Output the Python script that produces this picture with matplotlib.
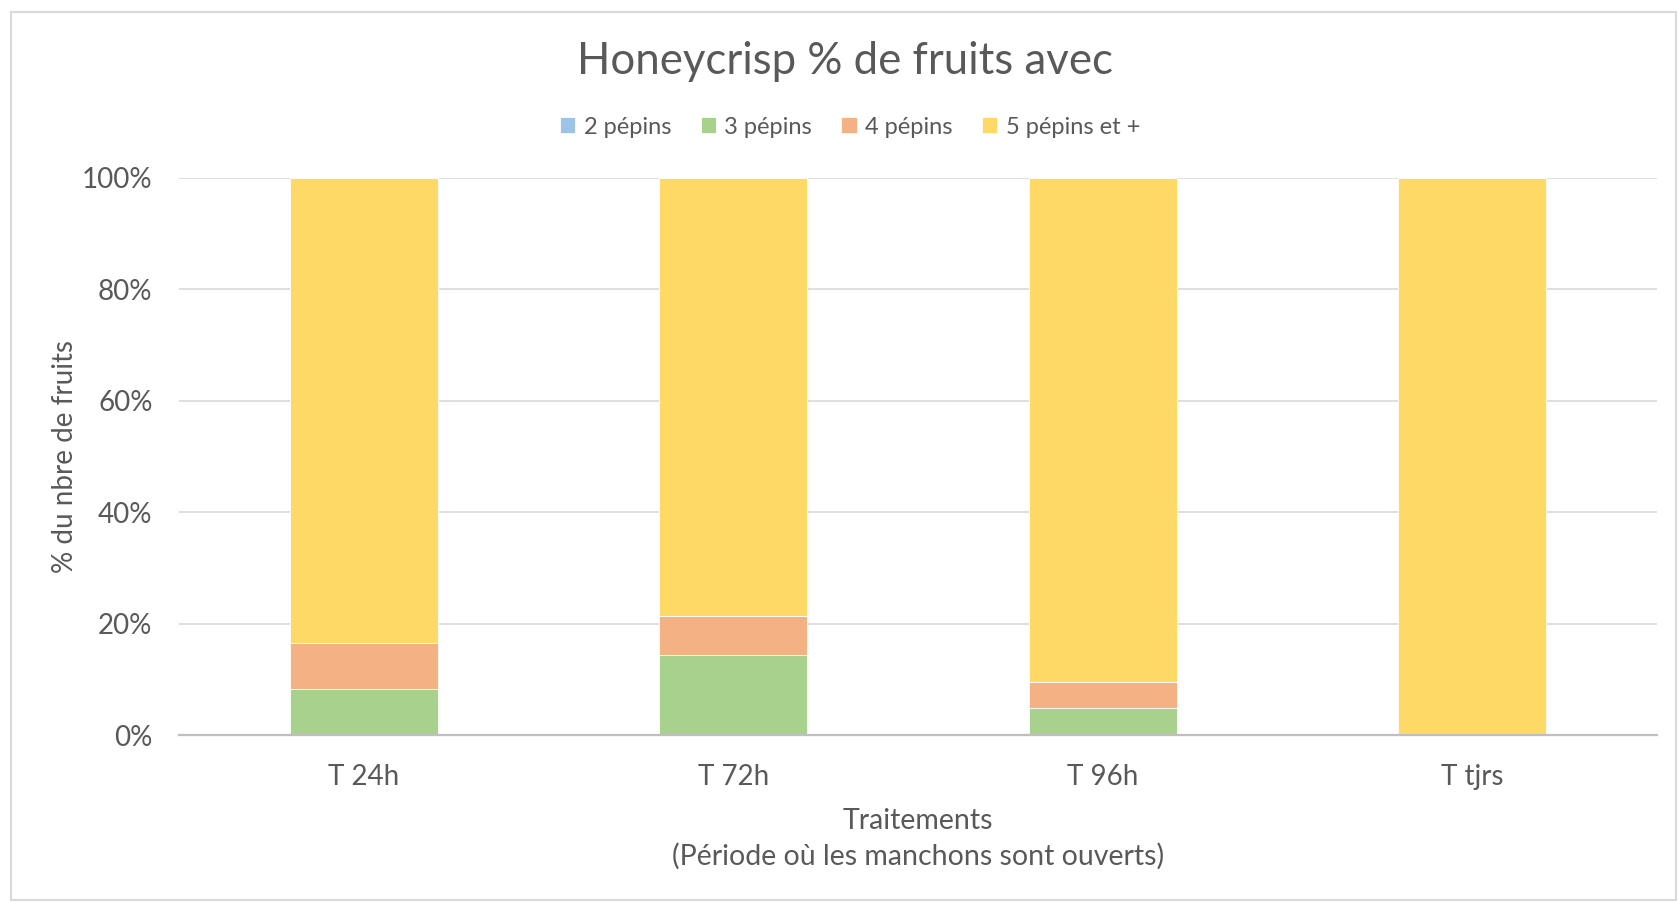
import numpy as np
import matplotlib.pyplot as plt
from matplotlib.patches import Rectangle

plt.rcParams['font.family'] = ['Lato', 'DejaVu Sans']

# données (% du nombre de fruits)
traitements = ['T 24h', 'T 72h', 'T 96h', 'T tjrs']
series = ['2 pépins', '3 pépins', '4 pépins', '5 pépins et +']
p2 = [0.0, 0.0, 0.0, 0.0]
p3 = [8.3, 14.3, 4.8, 0.0]
p4 = [8.3, 7.1, 4.8, 0.0]
p5 = [83.4, 78.6, 90.4, 100.0]
couleurs = ['#9DC3E6', '#A9D18E', '#F4B183', '#FFD966']

texte = '#595959'

fig = plt.figure(figsize=(16.78, 9.02), dpi=100)
ax = fig.add_axes([179 / 1678, 1 - 735 / 902, (1657 - 179) / 1678, (735 - 178) / 902])

x = np.arange(len(traitements))
bas = np.zeros(len(traitements))
for nom, vals, c in zip(series, [p2, p3, p4, p5], couleurs):
    vals = np.array(vals)
    ax.bar(x, vals, 0.4, bottom=bas, color=c, label=nom,
           edgecolor='white', linewidth=0.6, zorder=3)
    bas += vals

ax.set_xlim(-0.5, len(traitements) - 0.5)
ax.set_ylim(0, 100)
ax.set_yticks(np.arange(0, 101, 20))
ax.set_yticklabels([f'{v}%' for v in range(0, 101, 20)])
ax.set_xticks(x)
ax.set_xticklabels(traitements)
ax.yaxis.grid(True, color='#D9D9D9', linewidth=1.2, zorder=0)
ax.tick_params(axis='both', length=0, labelsize=20, labelcolor=texte)
ax.tick_params(axis='x', pad=21)
ax.tick_params(axis='y', pad=19)
for s in ['top', 'right', 'left']:
    ax.spines[s].set_visible(False)
ax.spines['bottom'].set_color('#BFBFBF')
ax.spines['bottom'].set_linewidth(1.6)
ax.spines['bottom'].set_zorder(4)

ax.set_ylabel('% du nbre de fruits', fontsize=20, color=texte, labelpad=3)
ax.set_xlabel('Traitements\n(Période où les manchons sont ouverts)',
              fontsize=20.5, color=texte, labelpad=13, linespacing=1.4)

fig.text(845 / 1678, 1 - 62 / 902, 'Honeycrisp % de fruits avec',
         ha='center', va='center', fontsize=31.5, color=texte)

leg = fig.legend(loc='center', bbox_to_anchor=(850 / 1678, 1 - 127 / 902),
                 ncol=4, frameon=False, fontsize=17, handlelength=0.65,
                 handleheight=0.65, handletextpad=0.35, columnspacing=1.25)
for t in leg.get_texts():
    t.set_color(texte)

fig.patches.append(Rectangle((11 / 1678, 2 / 902), (1676 - 11) / 1678, (888) / 902,
                             transform=fig.transFigure, fill=False,
                             edgecolor='#D9D9D9', linewidth=1.5))

fig.savefig('out.png', dpi=100, facecolor='white')
